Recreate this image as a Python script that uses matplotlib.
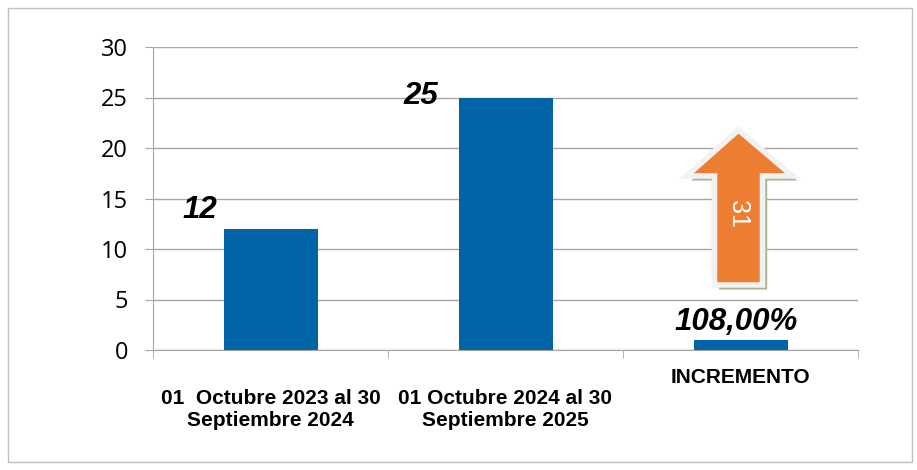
import matplotlib.pyplot as plt
import numpy as np
from matplotlib.patches import Polygon, Rectangle

# datos
categorias = ['01  Octubre 2023 al 30\nSeptiembre 2024', '01 Octubre 2024 al 30\nSeptiembre 2025', 'INCREMENTO']
valores = [12, 25, 1]
etiquetas = ['12', '25', '108,00%']
flecha_texto = '31'
yticks = [0, 5, 10, 15, 20, 25, 30]

azul = '#0064A6'
naranja = '#ED7D31'
gris = '#A6A6A6'

fig = plt.figure(figsize=(9.17, 4.70), dpi=100)
fig.patches.append(Rectangle((8 / 917, 8 / 470), 904 / 917, 454 / 470, transform=fig.transFigure,
                             fill=False, edgecolor='#BFBFBF', linewidth=1))
ax = fig.add_axes([153 / 917, 1 - 350 / 470, 705 / 917, 303 / 470])

x = np.arange(len(categorias))
ax.bar(x, valores, width=0.4, color=azul, zorder=3)

ax.set_xlim(-0.5, 2.5)
ax.set_ylim(0, 30)
ax.set_yticks(yticks)
ax.set_yticklabels([str(t) for t in yticks], fontsize=17, family='Open Sans')
ax.yaxis.grid(True, color=gris, linewidth=1)
ax.set_axisbelow(True)

# etiquetas de categoria como texto (INCREMENTO va mas arriba)
ax.set_xticks(x)
ax.set_xticklabels([])
ax.tick_params(axis='x', length=0)
ax.set_xticks([-0.5, 0.5, 1.5, 2.5], minor=True)
ax.tick_params(axis='x', which='minor', length=6, color=gris)
ax.tick_params(axis='y', length=6, color=gris, pad=12)

trans = ax.get_xaxis_transform()
ax.text(x[0], -0.13, categorias[0], transform=trans, fontsize=15, fontweight='bold',
        family='Liberation Sans', ha='center', va='top', linespacing=1.15)
ax.text(x[1], -0.13, categorias[1], transform=trans, fontsize=15, fontweight='bold',
        family='Liberation Sans', ha='center', va='top', linespacing=1.15)
ax.text(x[2], -0.058, categorias[2], transform=trans, fontsize=15, fontweight='bold',
        family='Liberation Sans', ha='center', va='top')

for s in ['top', 'right']:
    ax.spines[s].set_visible(False)
for s in ['left', 'bottom']:
    ax.spines[s].set_color(gris)

# etiquetas de valor
estilo = dict(fontsize=22.5, fontweight='bold', style='italic', family='Liberation Sans',
              ha='center', va='center')
ax.text(-0.3, 13.9, etiquetas[0], **estilo)
ax.text(0.64, 25.1, etiquetas[1], **estilo)
ax.text(1.98, 2.8, etiquetas[2], **estilo)

# flecha de incremento (en pixeles -> datos)
def px(xp, yp):
    return ((xp - 270) / 235, (350 - yp) / 10.1)

pts = [px(738, 130), px(792, 176), px(762, 176), px(762, 285), px(714, 285), px(714, 176), px(686, 176)]
sombra = [(a + 0.02, b - 0.45) for a, b in pts]
ax.add_patch(Polygon(sombra, closed=True, facecolor='#A9B596', edgecolor='none', zorder=4, clip_on=False))
ax.add_patch(Polygon(pts, closed=True, facecolor=naranja, edgecolor='#F2F2F2', linewidth=4,
                     joinstyle='miter', zorder=5, clip_on=False))
cx, cy = px(738, 214)
ax.text(cx, cy, flecha_texto, rotation=-90, color='white', fontsize=18,
        family='Liberation Sans', ha='center', va='center', zorder=6)

fig.savefig('out.png', dpi=100)
